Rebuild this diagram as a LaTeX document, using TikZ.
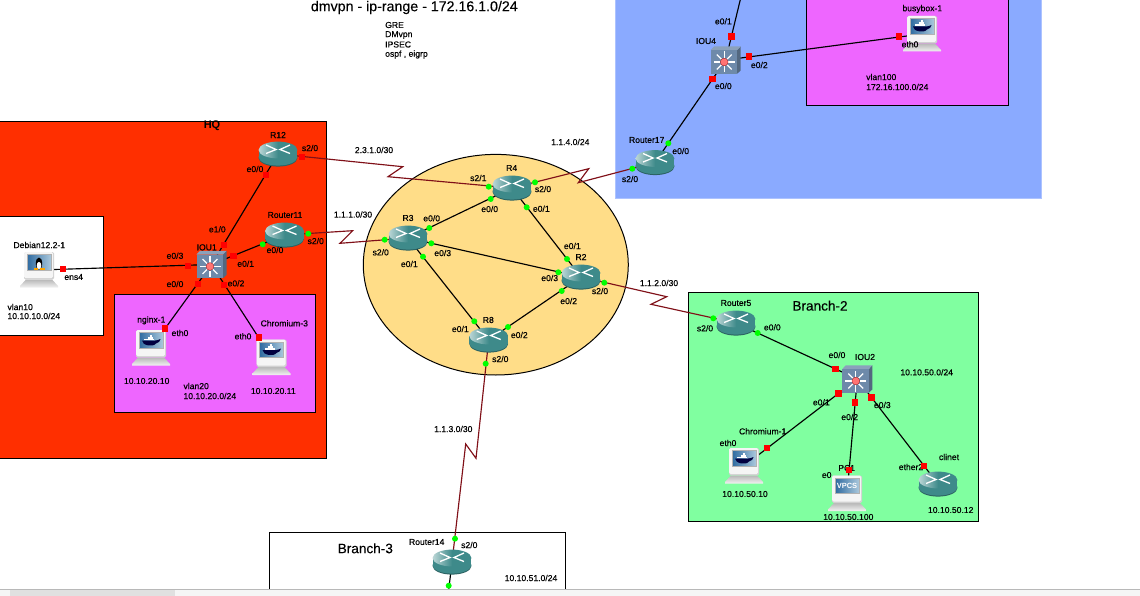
\documentclass[tikz,border=0pt]{standalone}
\usepackage{fontspec}
\setmainfont{Liberation Sans}
\newfontface\lblface{Liberation Sans}[FakeBold=0.4]
\newfontface\bigface{Liberation Sans}[FakeBold=0.2]
\usetikzlibrary{calc,positioning}
\definecolor{hqred}{RGB}{255,47,0}
\definecolor{vlanpink}{RGB}{238,102,255}
\definecolor{siteblue}{RGB}{138,170,255}
\definecolor{coreyellow}{RGB}{255,221,136}
\definecolor{branchgreen}{RGB}{128,255,160}
\definecolor{serialred}{RGB}{128,16,24}
\definecolor{routerteal}{RGB}{62,138,138}
\definecolor{cubeblue}{RGB}{110,138,170}
\definecolor{screendark}{RGB}{46,106,160}
\definecolor{screenlight}{RGB}{170,200,220}
\tikzset{
  hub/.style={inner sep=0pt,minimum size=0pt},
  zone/.style={draw=black,line width=1pt},
  lbl/.style={inner sep=0pt,font=\lblface\fontsize{8.6}{9}\selectfont},
  lblleft/.style={lbl,anchor=west},
  bigtext/.style={inner sep=0pt,font=\bigface\fontsize{13.6}{15}\selectfont},
  ethlink/.style={draw=black,line width=1.15pt},
  seriallink/.style={draw=serialred,line width=1.15pt},
  upport/.style={circle,fill=green,inner sep=0pt,minimum size=6pt},
  redport/.style={rectangle,fill=red,inner sep=0pt,minimum size=6.4pt},
  routerpic/.pic={
    \fill[routerteal!70!black] (0,4) ellipse [x radius=19.4,y radius=8.6];
    \fill[routerteal] (-19.4,-4) rectangle (19.4,3.5);
    \fill[routerteal] (0,3) ellipse [x radius=19.4,y radius=8.6];
    \shade[left color=routerteal!35!white,right color=routerteal,middle color=routerteal]
      (0,-4) ellipse [x radius=19.4,y radius=8.4];
    \draw[white,line width=1.3pt] (-12,-9) -- (-2,-4.5) -- (-12,-0.5);
    \draw[white,line width=1.3pt] (12,-9) -- (2,-4.5) -- (12,-0.5);
  },
  switchpic/.pic={
    \fill[cubeblue!75!black] (11.5,-10) -- (15,-13.7) -- (15,10.5) -- (11.5,13.7) -- cycle;
    \fill[cubeblue!80!white] (-15,-10) -- (-11.5,-13.7) -- (15,-13.7) -- (11.5,-10) -- cycle;
    \fill[cubeblue] (-15,-10) rectangle (11.5,13.7);
    \foreach \a in {0,45,...,315}
      \draw[white,line width=1.3pt] ($(-1.5,2)+(\a:4)$) -- ($(-1.5,2)+(\a:10.5)$);
    \fill[red!55!white,draw=red!60!black,line width=0.2pt] (-1.5,2) circle (3.9);
  },
  hostpic/.pic={
    \shade[top color=black!28,bottom color=black!5] (-13,9.5) -- (13,9.5) -- (19,16) -- (19,17.5) -- (-19,17.5) -- (-19,16) -- cycle;
    \fill[black!18,rounded corners=1.5pt] (-15,-18) rectangle (15,9.5);
    \fill[black!4,rounded corners=1.5pt] (-15,-18) rectangle (14,8);
    \shade[left color=screendark,right color=screenlight,draw=black!30,line width=0.3pt]
      (-12,-15.5) rectangle (12,0);
  },
  whalepic/.pic={
    \fill[black!75!blue] (-9,-7.5) .. controls (-9,-2) and (3,-1) .. (5,-4.5)
      .. controls (8,-5) and (9,-7) .. (9.5,-9) .. controls (7,-8) and (6,-7.5) .. (4,-7.5) -- cycle;
    \fill[white] (-7,-9.5) rectangle (3,-7.7);
    \fill[white] (-3.5,-11.5) rectangle (1.5,-9.5);
    \fill[white] (-1.5,-13.5) rectangle (0.8,-11.5);
  },
  tuxpic/.pic={
    \fill[black] (0,-6.5) ellipse [x radius=3.2,y radius=6];
    \fill[white] (0,-4.5) ellipse [x radius=2.3,y radius=3.6];
    \fill[orange!70!yellow] (-5.5,-1.6) rectangle (-1,-0.2);
    \fill[orange!70!yellow] (1,-1.6) rectangle (5.5,-0.2);
  },
}
\begin{document}
\begin{tikzpicture}[x=1pt,y=-1pt]
  \path[use as bounding box,clip] (0,0) rectangle (1140,596);
  \fill[white] (0,0) rectangle (1140,596);
  \draw[zone,fill=hqred] (-5,121.7) rectangle (326.7,458);
  \draw[zone,fill=white] (-5,216.7) rectangle (103,335);
  \draw[zone,fill=vlanpink] (114,294.3) rectangle (315.7,412.7);
  \draw[draw=siteblue!70!white,fill=siteblue] (615.5,-5) rectangle (1041,198);
  \draw[zone,fill=vlanpink] (806.7,-5) rectangle (1008,106);
  \draw[zone,fill=coreyellow] (495.8,264.7) ellipse [x radius=132.5,y radius=110.3];
  \draw[zone,fill=branchgreen] (688.3,292.7) rectangle (978.3,521);
  \draw[zone,fill=white] (269.7,532.7) rectangle (565.3,600);

  \foreach \n/\x/\y in {R12/278/154,Router11/284.5/235,R4/512/188,R3/408/238,R2/581/277,R8/488.7/340,
    Router17/655/162.5,Router5/736/323,clinet/938/484,Router14/452/562,
    IOU1/211.5/264.5,IOU4/725.7/60,IOU2/857.3/379,
    Debian/39/270,nginx/151/348,ChromiumC/271.5/357.5,busybox/922/34,ChromiumA/744/466,PC/847/493.5}
    \node[hub] (\n) at (\x,\y) {};
  \coordinate (IOU4up) at (740.7,-2);
  \coordinate (Router14down) at (447.5,600);

  \draw[ethlink] (Debian) -- (IOU1);
  \draw[ethlink] (R12) -- (IOU1);
  \draw[ethlink] (Router11) -- (IOU1);
  \draw[ethlink] (IOU1) -- (nginx);
  \draw[ethlink] (IOU1) -- (ChromiumC);
  \draw[ethlink] (R4) -- (R3);
  \draw[ethlink] (R4) -- (R2);
  \draw[ethlink] (R3) -- (R2);
  \draw[ethlink] (R3) -- (R8);
  \draw[ethlink] (R2) -- (R8);
  \draw[ethlink] (Router17) -- (IOU4);
  \draw[ethlink] (IOU4) -- (IOU4up);
  \draw[ethlink] (IOU4) -- (busybox);
  \draw[ethlink] (Router5) -- (IOU2);
  \draw[ethlink] (IOU2) -- (ChromiumA);
  \draw[ethlink] (IOU2) -- (PC);
  \draw[ethlink] (IOU2) -- (clinet);
  \draw[ethlink] (Router14) -- (Router14down);
  \draw[seriallink] (R12) -- (402.7,166.7) -- (388,176.7) -- (R4);
  \draw[seriallink] (Router11) -- (352.7,230.7) -- (340,243.3) -- (R3);
  \draw[seriallink] (R4) -- (588.7,168.7) -- (578.3,182.7) -- (Router17);
  \draw[seriallink] (R2) -- (666.7,296.7) -- (651,304.3) -- (Router5);
  \draw[seriallink] (R8) -- (476,458.3) -- (465.7,444) -- (Router14);

  \foreach \n in {R12,Router11,R4,R3,R2,R8,Router17,Router5,clinet,Router14}
    \pic at (\n) {routerpic};
  \foreach \n in {IOU1,IOU4,IOU2}
    \pic at (\n) {switchpic};
  \foreach \n in {Debian,nginx,ChromiumC,busybox,ChromiumA,PC}
    \pic at (\n) {hostpic};
  \foreach \n in {nginx,ChromiumC,busybox,ChromiumA}
    \pic at (\n) {whalepic};
  \pic at (Debian) {tuxpic};
  \node[inner sep=0pt,white,font=\fontsize{7.5}{8}\selectfont\bfseries] (vpcstext) at ($(PC)+(0,-7.8)$) {VPCS};

  \node[inner sep=0pt,font=\bigface\fontsize{14.2}{16}\selectfont] (title) at (414.3,7.5) {dmvpn - ip-range - 172.16.1.0/24};
  \node[bigtext,font=\fontsize{11}{12}\selectfont\bfseries] (hqname) at (212,126) {HQ};
  \node[bigtext] (branchtwo) at (820,305.7) {Branch-2};
  \node[bigtext] (branchthree) at (365.3,548.3) {Branch-3};
  \foreach \x/\y/\t [count=\i] in {
    385/25/GRE,385/35/DMvpn,385/44.5/IPSEC,385/54.5/{ospf , eigrp},
    7.3/307/vlan10,7.3/316/{10.10.10.0/24},183.3/386/vlan20,183.3/396/{10.10.20.0/24},
    866/77/vlan100,866/87/{172.16.100.0/24}}
    \node[lblleft] (note\i) at (\x,\y) {\t};
  \foreach \x/\y/\t [count=\i] in {
    278/135/R12,285/215/Router11,206.7/247.3/IOU1,39.3/245/Debian12.2-1,151.3/320.3/nginx-1,284.3/323.3/Chromium-3,
    511.7/168/R4,408/218/R3,581/257/R2,488.3/320/R8,646.7/140/Router17,706/41/IOU4,922.3/9/busybox-1,
    736/303/Router5,865/357/IOU2,762.7/431.3/Chromium-1,846.7/468/PC1,949/457/clinet,426.7/542/Router14,
    146.7/381/10.10.20.10,273.3/391/10.10.20.11,745/494/10.10.50.10,848.3/517/10.10.50.100,950.7/510/10.10.50.12,
    374/150/{2.3.1.0/30},353/214.5/{1.1.1.0/30},570.3/142/{1.1.4.0/24},659/283/{1.1.2.0/30},453.3/429/{1.1.3.0/30},
    926.7/372.3/{10.10.50.0/24},531/578/{10.10.51.0/24},
    310/148/{s2/0},255/169/{e0/0},315.7/241/{s2/0},275/250/{e0/0},217.3/229.3/{e1/0},175/255.7/{e0/3},245.7/263.7/{e0/1},
    175/284/{e0/0},236/283.3/{e0/2},73.7/277/ens4,180/333/eth0,243/336.3/eth0,
    478.3/178/{s2/1},543/189/{s2/0},489.7/209/{e0/0},541.3/208.7/{e0/1},431.7/218.3/{e0/0},380.7/252.3/{s2/0},
    442.7/253/{e0/3},409.3/264/{e0/1},572.3/246/{e0/1},549.7/278/{e0/3},600/291/{s2/0},568.7/301/{e0/2},
    460.3/329/{e0/1},519.3/335/{e0/2},500.3/359/{s2/0},723.3/21.3/{e0/1},759.3/65/{e0/2},723.3/86/{e0/0},910/44.3/eth0,
    680.7/151/{e0/0},630/179/{s2/0},705/328.3/{s2/0},772.3/327.3/{e0/0},837/355/{e0/0},821.3/402.3/{e0/1},
    849.7/417/{e0/2},882.3/405/{e0/3},728/443/eth0,826.7/475/e0,911/467/ether2,469.3/545/{s2/0}}
    \node[lbl] (lab\i) at (\x,\y) {\t};

  \foreach \x/\y [count=\i] in {
    488.7/186.7,535/182.3,490.7/199,526.7/207.3,429.3/228,431.3/243.3,384.7/239.7,423/256.7,
    567/259,558.3/272.3,604.3/282.7,561.7/291,474.3/321.3,508/327,485.7/363.7,
    262.7/244.3,308.3/233.7,668.3/143.3,632.3/168.7,713.3/318.3,757.7/333,455/538.7,448.7/585.7}
    \node[upport] (up\i) at (\x,\y) {};
  \foreach \x/\y [count=\i] in {
    302/157.3,266/175.3,224/245,233.3/256,188/265.7,197.7/284,224/284.7,62.7/269,164.7/328.3,258.7/337.3,
    731.3/36.7,749/56.7,712.3/79,899/36.7,835.3/369,838.3/393.3,855/402.3,871.3/397.3,767/447.7,848.7/470,924/465.7}
    \node[redport] (red\i) at (\x,\y) {};

  \fill[black!4] (0,589.5) rectangle (1140,596);
  \fill[black!12] (10,589.5) rectangle (175,596);
  \draw[black!28,line width=0.7pt] (0,589.5) -- (1140,589.5);
\end{tikzpicture}
\end{document}
